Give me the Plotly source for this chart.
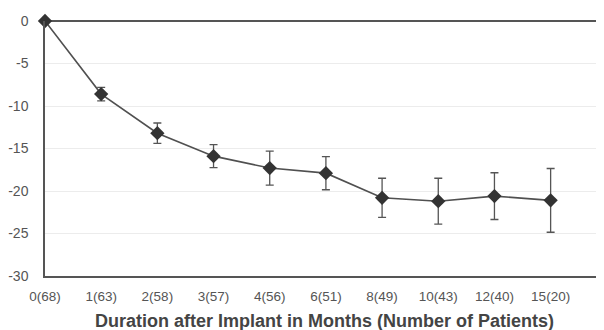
import plotly.graph_objects as go

categories = ["0(68)", "1(63)", "2(58)", "3(57)", "4(56)", "6(51)", "8(49)", "10(43)", "12(40)", "15(20)"]
values = [0, -8.6, -13.2, -15.9, -17.3, -17.9, -20.8, -21.2, -20.6, -21.1]
errors = [0, 0.8, 1.2, 1.35, 2.0, 1.95, 2.3, 2.7, 2.75, 3.75]
y_ticks = [0, -5, -10, -15, -20, -25, -30]

fig = go.Figure()
fig.add_trace(go.Scatter(
    x=list(range(len(categories))), y=values,
    mode="lines+markers",
    line=dict(color="#505050", width=1.6),
    marker=dict(symbol="diamond", size=11, color="#333333"),
    error_y=dict(type="data", array=errors, visible=True, color="#555555", thickness=1.3, width=4),
    cliponaxis=False,
    showlegend=False,
))

# page body has an 8px margin, so the figure is offset by 8px; compensate
fig.update_layout(
    width=596, height=322,
    margin=dict(l=34, r=0, t=13, b=54),
    paper_bgcolor="white", plot_bgcolor="white",
    font=dict(family="Liberation Sans, Arial, sans-serif", color="#444444"),
    xaxis=dict(
        range=[0, 9.95],
        tickmode="array", tickvals=list(range(len(categories))), ticktext=categories,
        showgrid=False, zeroline=False,
        showline=True, linecolor="#555555", linewidth=1.5,
        tickfont=dict(size=13.5, color="#555555"),
        ticks="", ticklabelstandoff=7,
    ),
    yaxis=dict(
        range=[-30, 0],
        tickmode="array", tickvals=y_ticks, ticktext=[str(v) for v in y_ticks],
        showgrid=True, gridcolor="#ececec", gridwidth=1,
        zeroline=True, zerolinecolor="#555555", zerolinewidth=1.5,
        showline=True, linecolor="#555555", linewidth=1.5,
        tickfont=dict(size=14, color="#555555"),
        ticks="", ticklabelstandoff=12,
    ),
    annotations=[dict(
        text="<b>Duration after Implant in Months (Number of Patients)</b>",
        xref="paper", yref="paper", x=0.5, y=0, yshift=-45,
        xanchor="center", yanchor="middle", showarrow=False,
        font=dict(size=18, color="#444444"),
    )],
)

fig.write_html("out.html")
